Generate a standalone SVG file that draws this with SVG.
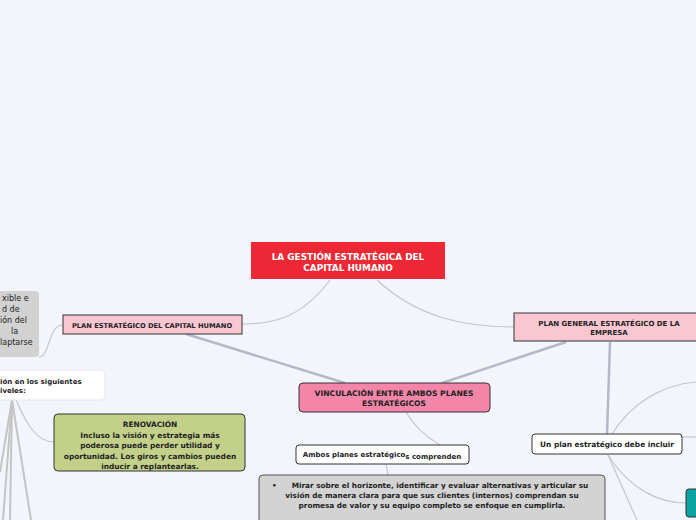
<svg xmlns="http://www.w3.org/2000/svg" width="696" height="520" viewBox="0 0 696 520">
<style>
.b{font-family:"DejaVu Sans","Verdana",sans-serif;font-weight:bold;fill:#222;text-anchor:middle}
.r{font-family:"DejaVu Sans","Verdana",sans-serif;fill:#222}
.thick{stroke:#b4b9c6;stroke-width:2.5;fill:none}
.thin{stroke:#c6c6c6;stroke-width:1.2;fill:none}
.fan{stroke:#c4c4c4;stroke-width:2;fill:none}
</style>
<rect width="696" height="520" fill="#f3f5fd"/>
<g id="connectors">
<path class="thin" d="M330,280 C300,320 270,324 242,324"/>
<path class="thin" d="M377,280 C420,320 470,327 514,327"/>
<path class="thick" d="M186,334 L345,383"/>
<path class="thick" d="M566,342 L442,383"/>
<path class="thin" d="M39,357 C50,357 48,325 63,325"/>
<path class="thin" d="M406,412 C415,428 428,438 440,445"/>
<path class="thin" d="M386,464 L388,475"/>
<path class="thick" d="M610,342 L607,434"/>
<path class="thin" d="M612,434 C630,405 660,385 696,382"/>
<path class="thin" d="M682,437 L696,437"/>
<path class="thin" d="M608,455 C630,490 660,503 686,503"/>
<path class="thin" d="M608,455 L637,520"/>
<path class="fan" d="M12,400 L0,472"/>
<path class="fan" d="M12,400 L3,520"/>
<path class="fan" d="M12,400 L10,520"/>
<path class="fan" d="M12,400 L31,520"/>
<path class="thin" d="M16,400 C25,420 35,442 54,442"/>
</g>
<g id="central">
<rect x="251" y="242" width="194" height="37" fill="#ec2834"/>
<text class="b" x="348" y="260" font-size="8.9" style="fill:#fff">LA GESTIÓN ESTRATÉGICA DEL</text>
<text class="b" x="348" y="271" font-size="8.9" style="fill:#fff">CAPITAL HUMANO</text>
</g>
<g id="plan-capital">
<rect x="63" y="315" width="179" height="19" fill="#f9c6d1" stroke="#333" stroke-width="1"/>
<text class="b" x="152" y="327.5" font-size="6.7">PLAN ESTRATÉGICO DEL CAPITAL HUMANO</text>
</g>
<g id="grey-left">
<rect x="-10" y="291" width="49" height="66" rx="4" fill="#d2d2d2"/>
<text class="r" font-size="8" x="2" y="301">xible e</text>
<text class="r" font-size="8" x="2" y="312">d de</text>
<text class="r" font-size="8" x="0" y="323">ión del</text>
<text class="r" font-size="8" x="11" y="334">la</text>
<text class="r" font-size="8" x="0" y="345">laptarse</text>
</g>
<g id="niveles">
<rect x="-10" y="370" width="115" height="30" rx="5" fill="#fff" stroke="#e4e6ee" stroke-width="1"/>
<text class="r" font-weight="bold" font-size="7" x="0" y="384">ión en los siguientes</text>
<text class="r" font-weight="bold" font-size="7" x="0" y="393">iveles:</text>
</g>
<g id="renovacion">
<rect x="54" y="414" width="191" height="57" rx="4" fill="#c3d089" stroke="#333" stroke-width="1"/>
<text class="b" font-size="7.4" x="150" y="427">RENOVACIÓN</text>
<text class="b" font-size="7.4" x="150" y="437.5">Incluso la visión y estrategia más</text>
<text class="b" font-size="7.4" x="150" y="448">poderosa puede perder utilidad y</text>
<text class="b" font-size="7.4" x="150" y="458.5">oportunidad. Los giros y cambios pueden</text>
<text class="b" font-size="7.4" x="150" y="469">inducir a replantearlas.</text>
</g>
<g id="vinculacion">
<rect x="299" y="383" width="191" height="29" rx="4" fill="#f285a8" stroke="#333" stroke-width="1"/>
<text class="b" font-size="7.6" x="394" y="396">VINCULACIÓN ENTRE AMBOS PLANES</text>
<text class="b" font-size="7.6" x="394" y="406">ESTRATÉGICOS</text>
</g>
<g id="plan-general">
<rect x="514" y="313" width="190" height="28" fill="#f9c6d1" stroke="#333" stroke-width="1"/>
<text class="b" font-size="7" x="609" y="325.5">PLAN GENERAL ESTRATÉGICO DE LA</text>
<text class="b" font-size="7" x="609" y="335">EMPRESA</text>
</g>
<g id="ambos">
<rect x="296" y="445" width="173" height="19" rx="3" fill="#fff" stroke="#333" stroke-width="1"/>
<text class="b" font-size="7" x="382" y="457">Ambos planes estratégico<tspan dy="1.5">s comprenden</tspan></text>
</g>
<g id="mirar">
<rect x="259" y="475" width="346" height="60" rx="4" fill="#d3d3d3" stroke="#555" stroke-width="1"/>
<text class="b" font-size="7.3" x="272" y="488" style="text-anchor:start">•</text>
<text class="b" font-size="7.3" x="440" y="488">Mirar sobre el horizonte, identificar y evaluar alternativas y articular su</text>
<text class="b" font-size="7.3" x="432" y="498">visión de manera clara para que sus clientes (internos) comprendan su</text>
<text class="b" font-size="7.3" x="432" y="508">promesa de valor y su equipo completo se enfoque en cumplirla.</text>
</g>
<g id="un-plan">
<rect x="532" y="434" width="150" height="20" rx="3" fill="#fff" stroke="#333" stroke-width="1"/>
<text class="b" font-size="7.4" x="607" y="447">Un plan estratégico debe incluir</text>
</g>
<g id="teal">
<rect x="686" y="489" width="20" height="28" rx="3" fill="#0ca3a3" stroke="#333" stroke-width="1"/>
</g>
</svg>
